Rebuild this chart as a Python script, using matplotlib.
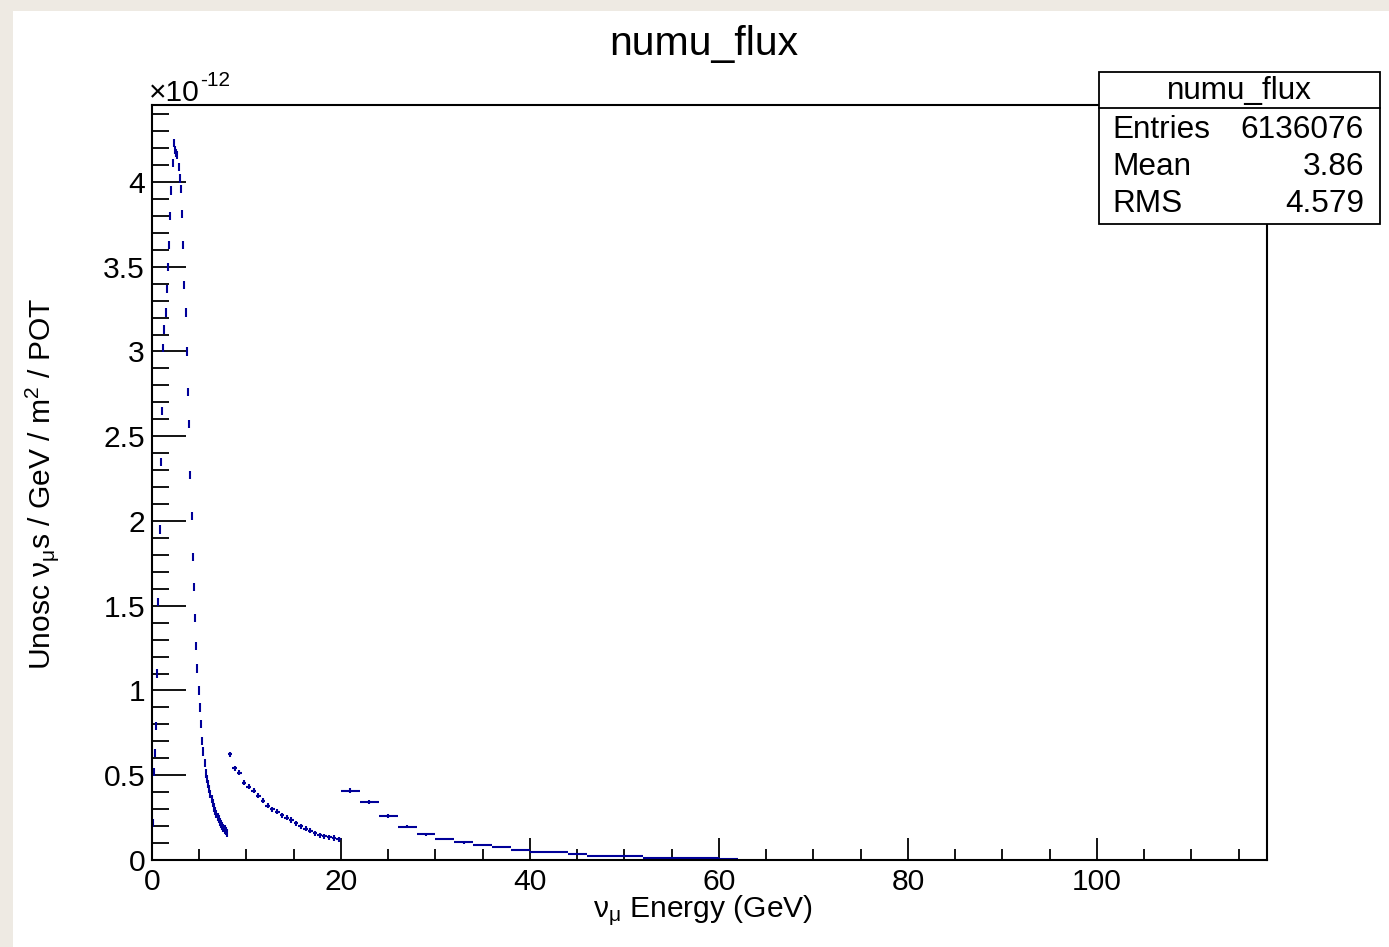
import matplotlib
matplotlib.use('Agg')
import matplotlib.pyplot as plt
import numpy as np
from matplotlib.patches import Rectangle
from matplotlib.lines import Line2D
from matplotlib.ticker import MultipleLocator, FuncFormatter

plt.rcParams['font.family'] = ['Liberation Sans', 'DejaVu Sans']
plt.rcParams['mathtext.default'] = 'regular'

# ---------------- data (flux in units of 1e-12) ----------------
# fine bins: 0-8 GeV, width 0.125
fine_lo, fine_hi, fine_w = 0.0, 8.0, 0.125
fine_vals = [0.22, 0.52, 0.63, 0.79, 1.10, 1.52, 1.95, 2.35, 2.65, 3.02,
             3.13, 3.23, 3.37, 3.50, 3.63, 3.80, 3.95, 4.11, 4.23,
             4.19, 4.17, 4.16, 4.09, 4.02, 3.96, 3.81, 3.63, 3.39, 3.23,
             3.00, 2.76, 2.57, 2.27, 2.03, 1.79, 1.61, 1.43, 1.26, 1.13,
             1.00, 0.90, 0.80, 0.70, 0.64, 0.57, 0.51, 0.48, 0.45,
             0.42, 0.39, 0.36, 0.335, 0.31, 0.29, 0.27, 0.255, 0.24,
             0.225, 0.21, 0.20, 0.19, 0.18, 0.17, 0.16]
fine_err = 0.024

# medium bins: 8-20 GeV, width 0.5
mid_lo, mid_hi, mid_w = 8.0, 20.0, 0.5
mid_vals = [0.624, 0.541, 0.515, 0.456, 0.433, 0.41, 0.38, 0.35, 0.32, 0.30,
            0.285, 0.265, 0.25, 0.236, 0.216, 0.20, 0.185, 0.174, 0.158,
            0.146, 0.14, 0.134, 0.13, 0.122]
mid_err = 0.015

# coarse bins: 20-62 GeV, width 2
coarse_lo, coarse_hi, coarse_w = 20.0, 62.0, 2.0
coarse_vals = [0.41, 0.342, 0.26, 0.197, 0.152, 0.124, 0.104, 0.086, 0.074,
               0.057, 0.048, 0.046, 0.035, 0.024, 0.022, 0.021, 0.011, 0.010,
               0.009, 0.009, 0.008]
coarse_err = [0.016, 0.014, 0.012, 0.010, 0.009, 0.008, 0.007, 0.006, 0.006,
              0.005, 0.005, 0.005, 0.004, 0.004, 0.004, 0.004, 0.003, 0.003,
              0.003, 0.003, 0.003]

x_range = (0, 118)
y_range = (0, 4.454)

title = "numu_flux"
xlabel = "ν$_{μ}$ Energy (GeV)"
ylabel = "Unosc ν$_{μ}$s / GeV / m$^{2}$ / POT"
stats_rows = [("Entries", "6136076"), ("Mean", "3.86"), ("RMS", "4.579")]

# ---------------- figure ----------------
W, H = 1389, 947
fig = plt.figure(figsize=(W / 100, H / 100), dpi=100)
fig.patch.set_facecolor('#eeeae3')
fig.add_artist(Rectangle((13 / W, 0), 1 - 13 / W, (H - 11) / H,
                         transform=fig.transFigure, facecolor='white',
                         edgecolor='none', zorder=-10))

def fx(px):
    return px / W

def fy(py):
    return (H - py) / H

ax = fig.add_axes([fx(152), fy(860), (1267 - 152) / W, (860 - 105) / H])
ax.set_facecolor('white')

col = '#000099'
def draw_seg(lo, hi, w, vals, err):
    n = len(vals)
    centers = lo + w * (np.arange(n) + 0.5)
    ax.errorbar(centers, vals, xerr=w / 2, yerr=err, fmt='none',
                ecolor=col, elinewidth=1.5, capsize=0)

draw_seg(fine_lo, fine_hi, fine_w, fine_vals, fine_err)
draw_seg(mid_lo, mid_hi, mid_w, mid_vals, mid_err)
draw_seg(coarse_lo, coarse_hi, coarse_w, coarse_vals, coarse_err)

ax.set_xlim(*x_range)
ax.set_ylim(*y_range)

ax.xaxis.set_major_locator(MultipleLocator(20))
ax.xaxis.set_minor_locator(MultipleLocator(5))
ax.yaxis.set_major_locator(MultipleLocator(0.5))
ax.yaxis.set_minor_locator(MultipleLocator(0.1))
fmt = FuncFormatter(lambda v, p: '%g' % v)
ax.xaxis.set_major_formatter(fmt)
ax.yaxis.set_major_formatter(fmt)

ax.tick_params(which='both', direction='in', top=False, right=False,
               color='black', width=1.3, labelsize=21.6)
ax.xaxis.set_tick_params(which='major', length=16, pad=6)
ax.xaxis.set_tick_params(which='minor', length=8)
ax.yaxis.set_tick_params(which='major', length=24.5, pad=5)
ax.yaxis.set_tick_params(which='minor', length=12.2)
for s in ax.spines.values():
    s.set_linewidth(1.5)

# texts
fig.text(fx(704), fy(44), title, ha='center', va='center', fontsize=29.5)
fig.text(fx(149), fy(101), "×10", ha='left', va='baseline', fontsize=21.6)
fig.text(fx(200), fy(86), "-12", ha='left', va='baseline', fontsize=15)
fig.text(fx(703), fy(911), xlabel, ha='center', va='center', fontsize=21.6)
fig.text(fx(42), fy(484), ylabel, ha='center', va='center', rotation=90,
         fontsize=21.6)

# stats box
bx0, by0, bx1, by1 = 1099, 72, 1380, 224
fig.add_artist(Rectangle((fx(bx0), fy(by1)), (bx1 - bx0) / W, (by1 - by0) / H,
                         transform=fig.transFigure, facecolor='white',
                         edgecolor='black', linewidth=1.3, zorder=5))
fig.add_artist(Line2D([fx(bx0), fx(bx1)], [fy(108), fy(108)],
                      transform=fig.transFigure, color='black',
                      linewidth=1.3, zorder=6))
fig.text(fx(1239), fy(91), title, ha='center', va='center', fontsize=22.7,
         zorder=7)
for i, (k, v) in enumerate(stats_rows):
    yy = fy(130 + 37 * i)
    fig.text(fx(1112), yy, k, ha='left', va='center', fontsize=22.7, zorder=7)
    fig.text(fx(1364), yy, v, ha='right', va='center', fontsize=22.7, zorder=7)

fig.savefig('out.png', dpi=100, facecolor=fig.get_facecolor())
